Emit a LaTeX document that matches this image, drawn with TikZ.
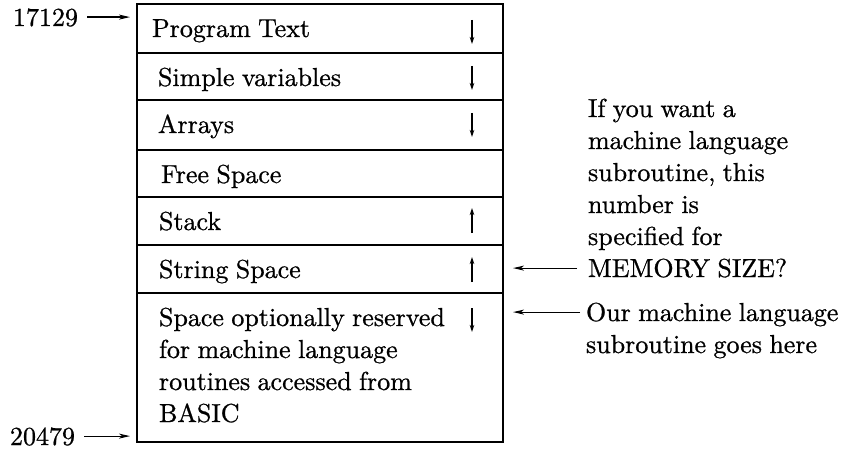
\documentclass[tikz,border=0pt]{standalone}
\usepackage{fontspec}
\setmainfont{lmroman10-regular.otf}[RawFeature={embolden=0.8}, WordSpace=0.85]
\usetikzlibrary{arrows.meta}
\begin{document}
\begin{tikzpicture}[x=1pt,y=-1pt,
  every node/.style={inner sep=0pt, outer sep=0pt},
  txt/.style={font=\fontsize{26}{31}\selectfont, text height=17.8pt, text depth=0pt, anchor=base west},
  cell/.style={draw, line width=1.7pt, minimum width=366pt, anchor=north west},
  ptr/.style={line width=1.2pt, -{Stealth[length=11pt,width=5pt,inset=3pt]}},
  flow/.style={line width=1.3pt, -{Stealth[length=7pt,width=4.5pt]}}]
\useasboundingbox (0,0) rectangle (845,449);
% memory map rows
\node[cell, minimum height=49pt] (r1) at (137,4) {};
\node[cell, minimum height=47pt] (r2) at (137,53) {};
\node[cell, minimum height=50pt] (r3) at (137,100) {};
\node[cell, minimum height=47pt] (r4) at (137,150) {};
\node[cell, minimum height=48pt] (r5) at (137,197) {};
\node[cell, minimum height=48pt] (r6) at (137,245) {};
\node[cell, minimum height=149pt] (r7) at (137,293) {};
% row texts
\node[txt] (t1) at (152,37) {Program Text};
\node[txt] (t2) at (158,86) {Simple variables};
\node[txt] (t3) at (158,133) {Arrays};
\node[txt] (t4) at (161,183) {Free Space};
\node[txt] (t5) at (159,230) {Stack};
\node[txt] (t6) at (159,278) {String Space};
\node[txt] (t7a) at (159,326) {Space optionally reserved};
\node[txt] (t7b) at (159,358) {for machine language};
\node[txt] (t7c) at (159,390) {routines accessed from};
\node[txt] (t7d) at (159,422) {BASIC};
% growth arrows
\draw[flow] (472,20) -- (472,44);
\draw[flow] (472,66) -- (472,90);
\draw[flow] (472,113) -- (472,137);
\draw[flow] (472,233) -- (472,208);
\draw[flow] (472,282) -- (472,257);
\draw[flow] (472,308) -- (472,332);
% addresses
\node[txt] (a1) at (13,26) {17129};
\node[txt] (a2) at (10,445) {20479};
\draw[ptr, shorten <=9pt, shorten >=7pt] (a1.east) -- (a1.east -| r1.west);
\draw[ptr, shorten <=9pt, shorten >=7pt] (a2.east) -- (a2.east -| r7.west);
% right notes
\node[txt] (q1) at (588,117) {If you want a};
\node[txt] (q2) at (588,149) {machine language};
\node[txt] (q3) at (588,181) {subroutine, this};
\node[txt] (q4) at (588,213) {number is};
\node[txt] (q5) at (588,245) {specified for};
\node[txt] (mem) at (588,277) {MEMORY SIZE?};
\draw[ptr, shorten <=11pt, shorten >=10pt] (mem.west) -- (mem.west -| r6.east);
\node[txt] (o1) at (586,321) {Our machine language};
\node[txt] (o2) at (586,353) {subroutine goes here};
\draw[ptr, shorten <=6pt, shorten >=10pt] (o1.west) -- (o1.west -| r7.east);
\end{tikzpicture}
\end{document}
